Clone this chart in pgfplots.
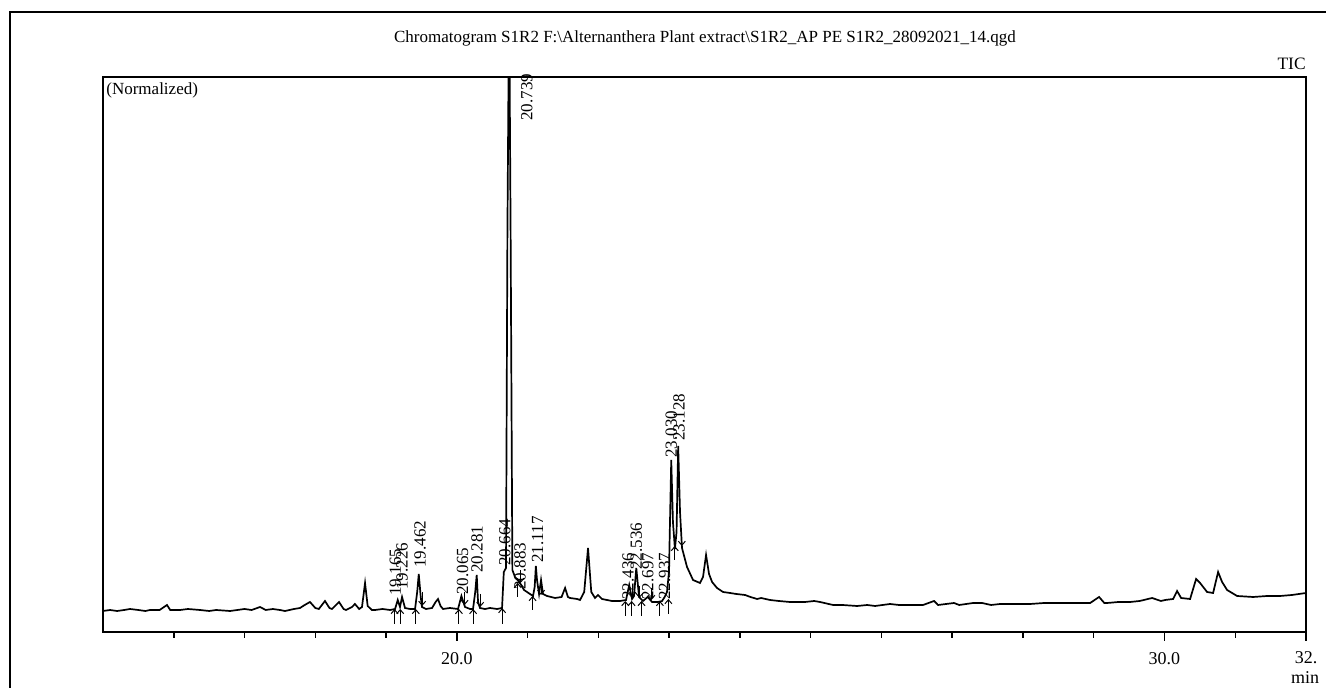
\documentclass[border=0pt]{standalone}
\usepackage{fontspec}
\setmainfont{Liberation Serif}
\usepackage{pgfplots}
\usepackage{pgfplotstable}
\pgfplotsset{compat=1.18}
\usetikzlibrary{arrows.meta}

\pgfplotstableread{
x y
15.000 21
15.10 22
15.20 21
15.30 22
15.382 23
15.50 22
15.60 21
15.664 22
15.80 22
15.904 27
15.95 22
16.088 22
16.20 23
16.371 22
16.50 21
16.60 22
16.795 21
16.90 22
17.00 23
17.10 22
17.219 25
17.30 22
17.40 23
17.50 22
17.572 21
17.70 23
17.784 24
17.85 27
17.925 30
18.00 24
18.05 23
18.137 31
18.20 24
18.236 23
18.335 30
18.40 23
18.434 22
18.519 25
18.56 28
18.62 23
18.66 25
18.703 49
18.74 26
18.80 22
18.844 22
18.95 23
19.056 22
19.127 23
19.165 32
19.197 25
19.226 35
19.268 24
19.339 23
19.410 23
19.44 40
19.462 58
19.49 35
19.508 25
19.565 23
19.650 24
19.700 30
19.734 33
19.77 26
19.805 23
19.904 24
20.017 23
20.065 36
20.116 25
20.187 23
20.229 23
20.26 40
20.281 57
20.30 30
20.328 24
20.398 23
20.469 24
20.568 23
20.639 24
20.664 60
20.695 64
20.715 400
20.739 640
20.76 400
20.785 62
20.822 55
20.883 50
20.950 42
21.034 38
21.077 36
21.10 45
21.117 66
21.133 52
21.162 38
21.190 52
21.218 38
21.275 36
21.388 34
21.48 35
21.530 44
21.57 35
21.600 34
21.70 33
21.741 32
21.80 40
21.854 84
21.90 40
21.953 34
21.995 37
22.052 33
22.193 31
22.306 31
22.391 32
22.436 47
22.476 33
22.504 36
22.536 64
22.575 35
22.631 31
22.697 35
22.759 30
22.843 30
22.900 31
22.937 35
22.970 40
22.998 60
23.030 172
23.054 110
23.082 83
23.105 100
23.128 186
23.154 120
23.182 84
23.253 65
23.338 52
23.437 49
23.479 55
23.522 77
23.564 58
23.607 50
23.677 44
23.762 40
23.861 39
23.95 38
24.073 37
24.15 35
24.243 33
24.30 34
24.426 32
24.55 31
24.709 30
24.921 30
25.05 31
25.133 30
25.317 27
25.45 27
25.656 26
25.80 27
25.910 26
26.122 28
26.25 27
26.405 27
26.588 27
26.744 31
26.80 27
27.026 29
27.10 27
27.295 29
27.422 29
27.55 27
27.677 28
27.85 28
28.101 28
28.30 29
28.482 29
28.60 29
28.737 29
28.949 29
29.076 35
29.15 29
29.189 29
29.35 30
29.514 30
29.65 31
29.825 34
29.95 31
30.009 32
30.122 33
30.178 41
30.235 34
30.362 33
30.447 53
30.503 49
30.602 40
30.687 39
30.758 60
30.814 50
30.885 42
31.026 36
31.252 35
31.45 36
31.634 36
31.80 37
32.0 39
}\tic

\pgfplotstableread{
x y v
19.12 8 15
19.20 8 15
19.42 8 15
20.03 8 15
20.23 8 15
20.64 8 16
21.07 22 14
22.38 16 15
22.47 16 15
22.61 16 15
22.87 16 15
22.99 18 15
20.86 35 14
23.08 72 14
}\uparrows

\pgfplotstableread{
x y v
19.51 40 -14
20.11 40 -13
20.33 38 -13
20.90 62 -13
21.19 50 -13
22.48 48 -13
22.58 46 -12
22.75 44 -12
23.18 100 -14
}\downarrows

\begin{document}
\begin{tikzpicture}[x=1pt,y=1pt]
\path[use as bounding box] (-51.5,-28) rectangle (611.5,316);
\draw[line width=1pt] (-46.5,-40) -- (-46.5,310) -- (640,310);
\begin{axis}[
  at={(0,0)}, anchor=south west,
  scale only axis, width=601.5pt, height=277.5pt,
  xmin=15, xmax=32, ymin=0, ymax=555,
  axis line style={line width=0.75pt},
  xtick={20,30,32}, xticklabels={20.0,30.0,32.},
  minor xtick={16,17,18,19,21,22,23,24,25,26,27,28,29,31},
  tick align=outside, xtick pos=left, ytick=\empty,
  major tick length=4.5pt, minor tick length=3pt,
  every tick/.style={line width=0.75pt, black},
  xticklabel style={font=\fontsize{9}{10}\selectfont, yshift=-2pt},
  clip=true, clip mode=individual,
]
\addplot[black, line width=0.85pt] table[x=x,y=y] {\tic};
\addplot[black, line width=0.5pt, quiver={u=0, v=\thisrow{v}}, -{Straight Barb[length=2pt,width=3.5pt]}] table[x=x,y=y] {\uparrows};
\addplot[black, line width=0.5pt, quiver={u=0, v=\thisrow{v}}, -{Straight Barb[length=2pt,width=3.5pt]}] table[x=x,y=y] {\downarrows};
\begin{scope}[every node/.style={rotate=90, anchor=west, inner sep=0pt, font=\fontsize{8.5}{9}\selectfont}]
\node at (axis cs:19.13,36) {19.165};
\node at (axis cs:19.226,42) {19.226};
\node at (axis cs:19.48,64) {19.462};
\node at (axis cs:20.08,37) {20.065};
\node at (axis cs:20.285,59) {20.281};
\node at (axis cs:20.68,66) {20.664};
\node at (axis cs:20.99,511) {20.739};
\node at (axis cs:20.893,42) {20.883};
\node at (axis cs:21.14,69) {21.117};
\node at (axis cs:22.42,32) {22.436};
\node at (axis cs:22.536,62) {22.536};
\node at (axis cs:22.70,32) {22.697};
\node at (axis cs:22.937,32) {22.937};
\node at (axis cs:23.03,174) {23.030};
\node at (axis cs:23.14,191) {23.128};
\end{scope}
\end{axis}
\node[font=\fontsize{8.5}{10}\selectfont] at (301,297) {Chromatogram S1R2 F:\textbackslash Alternanthera Plant extract\textbackslash S1R2\_AP PE S1R2\_28092021\_14.qgd};
\node[anchor=east, inner sep=0pt, font=\fontsize{8.7}{10}\selectfont] at (601.5,284) {TIC};
\node[anchor=west, inner sep=0pt, font=\fontsize{8.5}{10}\selectfont] at (1.5,271) {(Normalized)};
\node[font=\fontsize{9}{10}\selectfont] at (601,-23) {min};
\end{tikzpicture}
\end{document}
